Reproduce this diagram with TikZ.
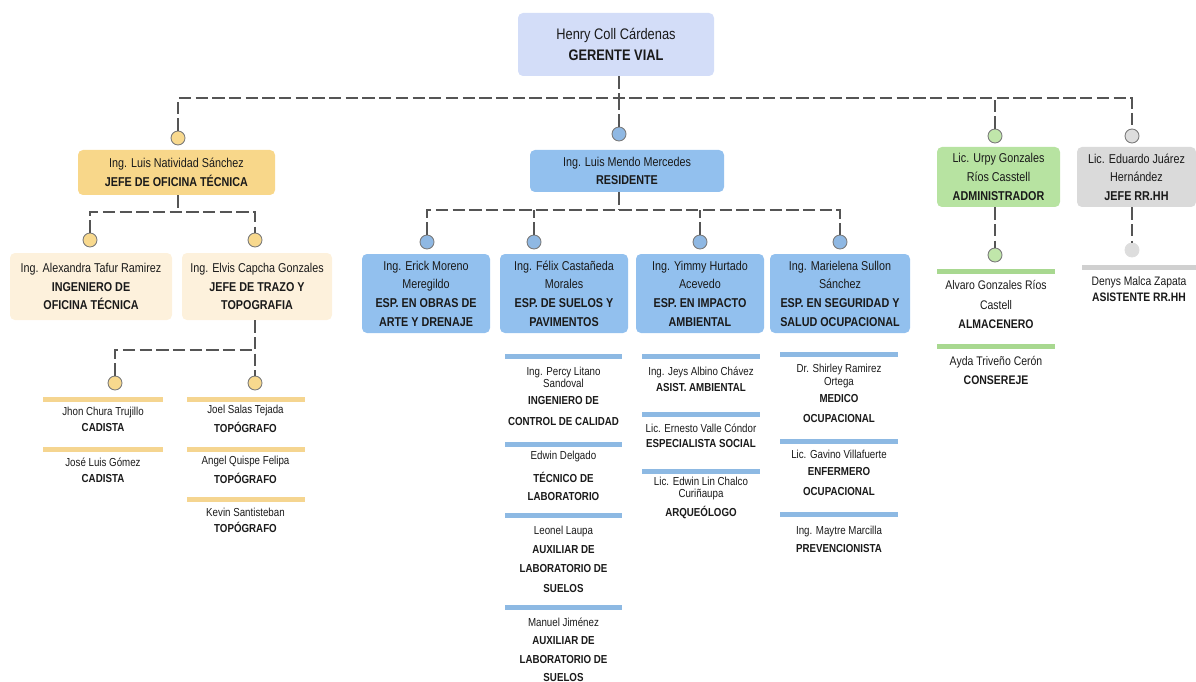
\documentclass[tikz,border=0pt]{standalone}
\usepackage{fontspec}
\setmainfont{Liberation Sans}[FakeStretch=0.84]
\definecolor{lc}{HTML}{555555}
\definecolor{tc}{HTML}{1A1A1A}
\definecolor{dc}{HTML}{7A7A7A}
\definecolor{topf}{HTML}{D3DDF8}
\definecolor{yf}{HTML}{F8D78A}
\definecolor{cf}{HTML}{FDF1DC}
\definecolor{bf}{HTML}{92C0EE}
\definecolor{gf}{HTML}{B7E3A1}
\definecolor{grf}{HTML}{DADADA}
\definecolor{ycirc}{HTML}{F8D98E}
\definecolor{bcirc}{HTML}{8FB8E3}
\definecolor{gcirc}{HTML}{C0E6AA}
\definecolor{grcirc}{HTML}{DDDDDD}
\definecolor{ybar}{HTML}{F5D590}
\definecolor{bbar}{HTML}{8DB9E3}
\definecolor{gbar}{HTML}{A8D890}
\definecolor{grbar}{HTML}{D0D0D0}
\tikzset{
  lnk/.style={draw=lc, line width=1.4pt, dash pattern=on 7pt off 2.5pt},
  bx/.style n args={3}{rounded corners=2.8pt, fill=#3, minimum width=#1*0.02cm,
     minimum height=#2*0.02cm, align=center, inner sep=1pt, text=tc,
     font=\fontsize{7.3}{10.6}\selectfont},
  dot/.style={circle, draw=dc, line width=0.5pt, fill=#1, minimum size=0.28cm, inner sep=0pt},
  bar/.style 2 args={fill=#1, minimum height=0.1cm, minimum width=#2*0.02cm, inner sep=0pt},
  itm/.style={align=center, font=\fontsize{6.6}{6.6}\selectfont, inner sep=0pt, text=tc}
}
\begin{document}
\begin{tikzpicture}[x=0.02cm, y=-0.02cm]
\useasboundingbox (0,0) rectangle (1196,682);

% ---- top level
\node[bx={196}{63}{topf}, font=\fontsize{8.7}{11.9}\selectfont] (top) at (616,44.5)
  {Henry Coll Cárdenas\\\textbf{GERENTE VIAL}};
\coordinate (j0) at (619,98);

\node[dot=ycirc] (cy1) at (178,138) {};
\node[dot=bcirc] (cb1) at (619,134) {};
\node[dot=gcirc] (cg1) at (995,136) {};
\node[dot=grcirc] (cr1) at (1132,136) {};

\draw[lnk] (top.south -| j0) -- (j0);
\draw[lnk] (cy1.north) |- (j0) -| (cr1.north);
\draw[lnk] (cb1.north) -- (cb1.north |- j0);
\draw[lnk] (cg1.north) -- (cg1.north |- j0);

\node[bx={197}{45}{yf}] (lof) at (176.5,172.5)
  {Ing. Luis Natividad Sánchez\\\textbf{JEFE DE OFICINA TÉCNICA}};
\node[bx={194}{42}{bf}] (res) at (627,171)
  {Ing. Luis Mendo Mercedes\\\textbf{RESIDENTE}};
\node[bx={123}{60}{gf}] (adm) at (998.5,177)
  {Lic. Urpy Gonzales\\Ríos Casstell\\\textbf{ADMINISTRADOR}};
\node[bx={119}{60}{grf}] (rrh) at (1136.5,177)
  {Lic. Eduardo Juárez\\Hernández\\\textbf{JEFE RR.HH}};

% ---- oficina tecnica branch
\coordinate (j1) at (178,212);
\node[dot=ycirc] (ca) at (90,240) {};
\node[dot=ycirc] (ce) at (255,240) {};
\draw[lnk] (lof.south -| j1) -- (j1);
\draw[lnk] (ca.north) |- (j1) -| (ce.north);

\node[bx={162}{67}{cf}] (ale) at (91,286.5)
  {Ing. Alexandra Tafur Ramirez\\\textbf{INGENIERO DE}\\\textbf{OFICINA TÉCNICA}};
\node[bx={150}{67}{cf}] (elv) at (257,286.5)
  {Ing. Elvis Capcha Gonzales\\\textbf{JEFE DE TRAZO Y}\\\textbf{TOPOGRAFIA}};

\coordinate (j2) at (255,350);
\node[dot=ycirc] (cc) at (115,383) {};
\node[dot=ycirc] (ct) at (255,383) {};
\draw[lnk] (elv.south -| ct) -- (ct.north);
\draw[lnk] (cc.north) |- (j2);

\node[bar={ybar}{120}] (bj1) at (103,399) {};
\node[itm] (tj1) at (103,419) {Jhon Chura Trujillo\\[2.5pt]\textbf{CADISTA}};
\node[bar={ybar}{120}] (bj2) at (103,449) {};
\node[itm] (tj2) at (103,470) {José Luis Gómez\\[2.5pt]\textbf{CADISTA}};
\node[bar={ybar}{118}] (bt1) at (245.5,399) {};
\node[itm] (tt1) at (245.5,419) {Joel Salas Tejada\\[2.5pt]\textbf{TOPÓGRAFO}};
\node[bar={ybar}{118}] (bt2) at (245.5,449) {};
\node[itm] (tt2) at (245.5,470) {Angel Quispe Felipa\\[2.5pt]\textbf{TOPÓGRAFO}};
\node[bar={ybar}{118}] (bt3) at (245.5,499) {};
\node[itm] (tt3) at (245.5,520) {Kevin Santisteban\\[2.5pt]\textbf{TOPÓGRAFO}};

% ---- residente branch
\coordinate (j3) at (619,210);
\node[dot=bcirc] (cbe) at (427,242) {};
\node[dot=bcirc] (cbf) at (534,242) {};
\node[dot=bcirc] (cby) at (700,242) {};
\node[dot=bcirc] (cbm) at (840,242) {};
\draw[lnk] (res.south -| j3) -- (j3);
\draw[lnk] (cbe.north) |- (j3) -| (cbm.north);
\draw[lnk] (cbf.north) -- (cbf.north |- j3);
\draw[lnk] (cby.north) -- (cby.north |- j3);

\node[bx={128}{79}{bf}] (eri) at (426,293.5)
  {Ing. Erick Moreno\\Meregildo\\\textbf{ESP. EN OBRAS DE}\\\textbf{ARTE Y DRENAJE}};
\node[bx={128}{79}{bf}] (fel) at (564,293.5)
  {Ing. Félix Castañeda\\Morales\\\textbf{ESP. DE SUELOS Y}\\\textbf{PAVIMENTOS}};
\node[bx={128}{79}{bf}] (yim) at (700,293.5)
  {Ing. Yimmy Hurtado\\Acevedo\\\textbf{ESP. EN IMPACTO}\\\textbf{AMBIENTAL}};
\node[bx={140}{79}{bf}] (mar) at (840,293.5)
  {Ing. Marielena Sullon\\Sánchez\\\textbf{ESP. EN SEGURIDAD Y}\\\textbf{SALUD OCUPACIONAL}};

% Felix column
\node[bar={bbar}{117}] (bf1) at (563.5,356) {};
\node[itm] (tf1) at (563.5,396.5) {Ing. Percy Litano\\Sandoval\\[3.1pt]\textbf{INGENIERO DE}\\[5.3pt]\textbf{CONTROL DE CALIDAD}};
\node[bar={bbar}{117}] (bf2) at (563.5,444) {};
\node[itm] (tf2) at (563.5,476) {Edwin Delgado\\[4.8pt]\textbf{TÉCNICO DE}\\[3.6pt]\textbf{LABORATORIO}};
\node[bar={bbar}{117}] (bf3) at (563.5,515) {};
\node[itm] (tf3) at (563.5,559) {Leonel Laupa\\[4.2pt]\textbf{AUXILIAR DE}\\[4.2pt]\textbf{LABORATORIO DE}\\[4.8pt]\textbf{SUELOS}};
\node[bar={bbar}{117}] (bf4) at (563.5,607) {};
\node[itm] (tf4) at (563.5,649.5) {Manuel Jiménez\\[3.6pt]\textbf{AUXILIAR DE}\\[4.2pt]\textbf{LABORATORIO DE}\\[3.6pt]\textbf{SUELOS}};

% Yimmy column
\node[bar={bbar}{118}] (by1) at (701,356) {};
\node[itm] (ty1) at (701,379) {Ing. Jeys Albino Chávez\\[2.5pt]\textbf{ASIST. AMBIENTAL}};
\node[bar={bbar}{118}] (by2) at (701,414) {};
\node[itm] (ty2) at (701,435.5) {Lic. Ernesto Valle Cóndor\\[1.9pt]\textbf{ESPECIALISTA SOCIAL}};
\node[bar={bbar}{118}] (by3) at (701,471) {};
\node[itm] (ty3) at (701,498) {Lic. Edwin Lin Chalco\\Curiñaupa\\[2.5pt]\textbf{ARQUEÓLOGO}};

% Marielena column
\node[bar={bbar}{118}] (bm1) at (839,354) {};
\node[itm] (tm1) at (839,393) {Dr. Shirley Ramirez\\[0.8pt]Ortega\\[3.1pt]\textbf{MEDICO}\\[4.8pt]\textbf{OCUPACIONAL}};
\node[bar={bbar}{118}] (bm2) at (839,441) {};
\node[itm] (tm2) at (839,472.5) {Lic. Gavino Villafuerte\\[3.1pt]\textbf{ENFERMERO}\\[4.8pt]\textbf{OCUPACIONAL}};
\node[bar={bbar}{118}] (bm3) at (839,514) {};
\node[itm] (tm3) at (839,539) {Ing. Maytre Marcilla\\[3.6pt]\textbf{PREVENCIONISTA}};

% ---- administrador branch
\node[dot=gcirc] (cg2) at (995,255) {};
\draw[lnk] (adm.south -| cg2) -- (cg2.north);
\node[bar={gbar}{118}] (bg1) at (996,271) {};
\node[itm, font=\fontsize{7.1}{6.8}\selectfont] (tg1) at (996,304.5) {Alvaro Gonzales Ríos\\[4.6pt]Castell\\[4.0pt]\textbf{ALMACENERO}};
\node[bar={gbar}{118}] (bg2) at (996,346) {};
\node[itm, font=\fontsize{7.1}{6.8}\selectfont] (tg2) at (996,370.5) {Ayda Triveño Cerón\\[4.0pt]\textbf{CONSEREJE}};

% ---- RRHH branch
\node[dot=grcirc, draw=grcirc] (cr2) at (1132,250) {};
\draw[lnk] (rrh.south -| cr2) -- (cr2.north);
\node[bar={grbar}{114}] (br1) at (1139,267) {};
\node[itm, font=\fontsize{7}{6.8}\selectfont] (tr1) at (1139,289) {Denys Malca Zapata\\[2.2pt]\textbf{ASISTENTE RR.HH}};
\end{tikzpicture}
\end{document}
